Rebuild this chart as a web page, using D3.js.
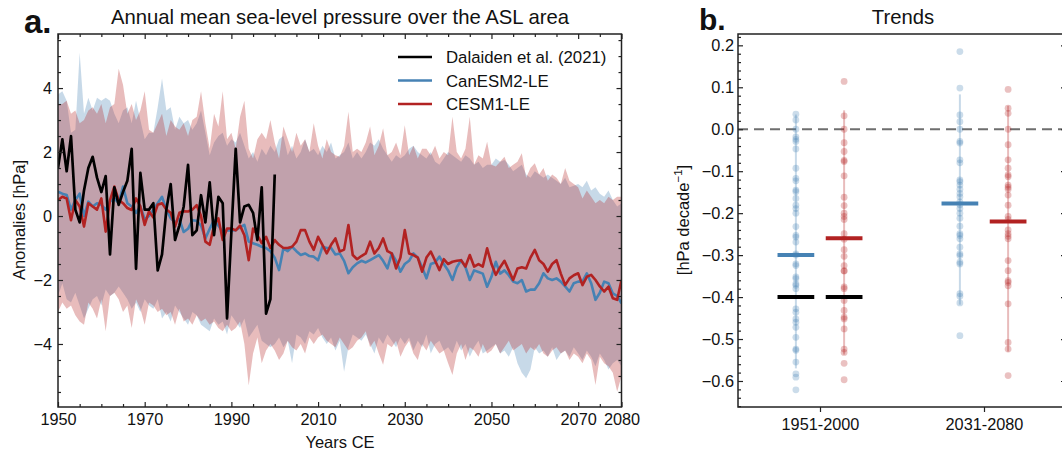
<!DOCTYPE html>
<html>
<head>
<meta charset="utf-8">
<script src="https://cdn.jsdelivr.net/npm/d3@7"></script>
<style>
    body { margin: 0; background: #fff; }
    svg { display: block; font-family: "Liberation Sans", Arial, sans-serif; }
    .axis path { display: none; }
    .axis line { stroke: #222; stroke-width: 1.2; }
    .axis text { font-size: 16.3px; fill: #111; font-family: "Liberation Sans", Arial, sans-serif; }
</style>
</head>
<body>
<svg id="chart" width="1062" height="457"></svg>
<script>
// ---- data: panel a (annual anomalies, hPa), 1950..2080 ----
const firstYear = 1950
const lastYear = 2080

const canMean = [
    0.76, 0.70, 0.66, 0.20, 0.50, 0.70, 0.00, 0.45, 0.30, 0.40,
    0.35, 0.20, 0.45, 0.55, 0.40, 0.92, 0.40, 0.30, 0.10, 0.30,
    -0.10, 0.00, 0.20, 0.40, 0.60, 0.20, -0.07, -0.20, -0.10, -0.50,
    -0.40, -0.13, -0.15, -0.30, -0.70, -0.40, -0.13, -0.30, -0.50, -0.45,
    -0.45, -0.44, -0.35, -0.28, -0.80, -0.85, -0.90, -0.96, -1.00, -1.10,
    -1.30, -1.69, -1.01, -1.10, -0.96, -1.10, -1.22, -1.17, -1.25, -1.27,
    -1.38, -0.96, -1.00, -1.00, -1.20, -1.17, -1.40, -1.79, -1.60, -1.48,
    -1.40, -1.45, -1.38, -1.30, -1.22, -1.40, -1.64, -1.17, -1.40, -1.74,
    -1.50, -1.40, -1.17, -1.30, -1.60, -1.95, -1.50, -1.45, -1.27, -1.50,
    -1.70, -2.00, -1.60, -1.38, -1.60, -2.00, -1.70, -1.75, -1.80, -2.21,
    -1.90, -1.43, -1.80, -1.70, -1.85, -2.05, -2.10, -2.00, -2.36, -2.30,
    -2.30, -2.10, -1.79, -1.95, -2.00, -1.95, -2.05, -2.20, -2.36, -2.10,
    -2.05, -2.05, -1.79, -2.10, -2.62, -2.40, -2.05, -2.10, -2.42, -2.50,
    -2.73
]
const cesmMean = [
    0.50, 0.60, 0.55, -0.13, 0.50, 0.30, -0.33, 0.40, 0.30, 0.20,
    0.55, -0.49, 0.50, 0.92, 0.50, 0.40, 0.25, 0.19, 0.55, 0.30,
    -0.28, 0.15, -0.05, 0.35, 0.40, 0.20, 0.10, -0.33, 0.10, 0.15,
    0.14, 0.20, 0.34, 0.00, -0.80, -0.90, -0.30, -0.07, -0.75, -0.39,
    -0.39, -0.45, -0.30, -0.60, -1.38, -0.39, -0.60, -0.85, -0.65, -1.00,
    -0.75, -0.90, -1.00, -1.00, -0.96, -0.80, -0.44, -0.44, -0.80, -1.06,
    -0.65, -0.90, -1.17, -0.90, -0.70, -1.11, -1.05, -0.28, -1.22, -1.35,
    -1.25, -1.17, -0.80, -1.17, -1.00, -0.70, -1.10, -1.17, -1.64, -1.30,
    -0.44, -1.17, -1.22, -1.30, -1.74, -1.30, -1.11, -1.40, -1.69, -1.35,
    -1.50, -1.43, -1.40, -1.38, -1.58, -1.22, -1.58, -1.50, -1.58, -1.01,
    -1.50, -1.84, -1.60, -1.40, -1.70, -2.00, -1.64, -1.60, -1.64, -1.30,
    -1.06, -1.38, -1.50, -1.74, -1.50, -1.38, -1.80, -2.16, -1.95, -1.85,
    -1.79, -2.16, -1.90, -1.84, -2.00, -2.20, -2.36, -2.21, -2.57, -2.62,
    -2.00
]
const canMax = [
    3.8, 3.9, 3.6, 2.6, 2.7, 5.1, 3.2, 3.7, 3.3, 3.7,
    3.6, 3.7, 3.6, 3.2, 2.9, 3.3, 3.4, 2.9, 3.6, 3.0,
    2.4, 2.6, 2.6, 3.4, 4.3, 3.3, 3.4, 2.7, 3.1, 2.9,
    3.0, 2.7, 2.9, 3.3, 2.6, 1.9, 2.3, 2.5, 2.6, 2.2,
    2.4, 2.3, 2.6, 2.2, 1.8, 2.0, 1.7, 2.1, 1.9, 2.2,
    2.0, 2.4, 2.5, 1.9, 2.2, 1.8, 2.0, 2.4, 2.0, 2.1,
    1.9, 2.2, 2.0, 2.3, 1.8, 1.9, 2.0, 2.3, 1.8, 2.0,
    1.8, 2.0, 2.3, 2.2, 2.4, 2.1, 1.9, 1.7, 1.9, 1.8,
    1.9, 2.1, 2.2, 2.0, 1.9, 1.8, 2.0, 1.7, 1.6, 1.8,
    2.0, 1.9, 1.8, 1.7, 1.9, 1.8, 1.6, 1.7, 1.5, 1.6,
    1.6, 1.8, 1.7, 1.75, 1.6, 1.4, 1.5, 1.6, 1.3, 1.2,
    1.4, 1.3, 1.2, 1.3, 1.2, 1.1, 1.0, 1.2, 0.9, 0.95,
    1.0, 0.9, 1.1, 0.8, 0.9, 0.7, 0.6, 0.8, 0.5, 0.3,
    0.4
]
const canMin = [
    -2.5, -2.1, -2.6, -2.7, -2.4, -2.8, -3.2, -2.9, -2.6, -2.5,
    -2.8, -2.3, -2.5, -2.4, -2.2, -2.4, -2.6, -2.9, -2.7, -3.0,
    -2.6, -2.8, -2.9, -2.6, -3.2, -3.0, -3.3, -2.8, -3.0, -3.2,
    -3.4, -3.0, -3.1, -3.4, -3.5, -3.6, -3.2, -3.4, -3.3, -3.7,
    -3.1, -3.3, -3.5, -3.2, -3.8, -3.6, -3.4, -3.9, -4.0, -4.1,
    -4.0, -3.8, -4.1, -3.9, -4.6, -3.7, -3.8, -4.0, -3.6, -3.7,
    -3.5, -3.8, -4.0, -3.8, -4.2, -3.9, -4.87, -4.1, -3.7, -3.8,
    -3.9, -3.7, -4.0, -4.3, -3.8, -4.0, -3.7, -3.9, -4.1, -3.8,
    -4.0, -3.8, -4.2, -3.9, -4.1, -3.7, -4.3, -4.0, -3.9, -4.2,
    -4.1, -4.3, -3.9, -4.2, -4.0, -4.4, -4.1, -3.9, -4.3, -4.2,
    -4.1, -4.0, -4.3, -4.2, -4.4, -4.1, -4.6, -4.9, -5.07, -4.8,
    -4.1, -4.3, -4.2, -4.4, -4.1, -4.5, -4.3, -4.2, -4.4, -4.1,
    -4.3, -4.5, -4.2, -4.4, -4.7, -4.3, -4.5, -4.8, -4.6, -4.5,
    -4.7
]
const cesmMax = [
    3.5, 3.5, 3.6, 3.2, 3.3, 2.9, 3.0, 3.3, 3.4, 3.2,
    3.5, 2.9, 3.4, 3.5, 4.6, 4.1, 3.2, 3.5, 3.0, 3.3,
    3.9, 2.7, 2.6, 2.9, 3.2, 2.5, 3.0, 2.8, 2.7, 2.9,
    2.5, 3.0, 3.1, 3.9, 2.9, 2.1, 3.2, 2.8, 3.9, 2.4,
    2.6, 2.1, 3.1, 3.6, 2.1, 1.8, 2.4, 2.6, 2.4, 3.0,
    2.3, 1.8, 2.8, 2.4, 2.0, 2.6, 2.2, 2.4, 2.0, 2.9,
    2.2, 1.8, 2.4, 2.0, 1.9, 1.85, 2.2, 3.26, 2.0, 2.1,
    2.0, 2.3, 2.8, 1.9, 2.2, 2.74, 1.9, 2.0, 2.3, 1.9,
    2.84, 1.9, 2.2, 1.8, 2.1, 2.1, 1.9, 2.2, 1.8, 2.0,
    1.9, 3.1, 2.0, 1.8, 2.1, 3.1, 1.6, 1.9, 1.8, 2.32,
    1.6, 1.55, 1.7, 1.85, 1.5, 1.6, 1.7, 1.96, 1.2, 1.5,
    1.65, 1.3, 1.5, 1.1, 1.3, 1.2, 1.0, 1.5, 1.1, 1.0,
    0.9, 0.55, 0.8, 0.6, 0.4, 0.5, 0.4, 0.6, 0.5, 0.6,
    0.6
]
const cesmMin = [
    -3.0, -2.7, -2.9, -2.8, -3.1, -3.3, -3.4, -2.7, -2.9, -3.2,
    -2.6, -3.6, -2.5, -2.4, -2.6, -3.0, -2.8, -3.5, -2.6, -2.9,
    -3.4, -2.7, -2.8, -3.0, -2.9, -3.1, -3.0, -3.4, -2.9, -3.3,
    -3.2, -3.4, -3.1, -3.3, -3.2, -3.4, -3.3, -3.5, -3.6, -3.4,
    -3.6, -3.5, -3.3, -4.0, -5.3, -4.3, -3.8, -4.6, -4.2, -4.0,
    -4.2, -4.5, -4.3, -3.9, -4.1, -4.2, -4.0, -4.3, -3.8, -4.0,
    -3.8, -3.7, -3.9, -4.0, -4.1, -3.8, -4.0, -4.2, -4.1, -3.9,
    -3.8, -3.6, -4.1, -3.9, -4.3, -4.65, -4.0, -4.1, -3.9, -4.4,
    -4.1, -3.9, -4.3, -4.5, -4.0, -4.2, -3.9, -4.1, -4.3, -4.2,
    -4.6, -4.97, -4.3, -4.0, -4.5, -4.1, -4.2, -4.4, -4.0, -4.3,
    -4.2, -4.0, -4.3, -4.1, -3.9, -4.2, -4.1, -4.0, -4.3, -4.1,
    -4.2, -4.0, -4.3, -4.4, -4.2, -4.1, -4.3, -4.2, -4.5, -4.3,
    -4.4, -4.6, -4.3, -4.5, -5.28, -4.4, -4.6, -4.7, -4.9, -5.49,
    -5.0
]
// Dalaiden et al. (2021) reconstruction, 1950..2000
const recon = [
    1.5, 2.4, 1.4, 2.5, 0.2, -0.2, 0.8, 1.5, 1.85, 1.2,
    0.75, 1.25, -1.2, 0.9, 0.35, 0.75, 1.1, 2.1, -1.65, 1.35,
    0.2, 0.2, 0.4, -1.7, -1.2, 0.2, 1.0, -0.75, -0.3, 0.3,
    1.6, -0.6, -0.45, 0.65, -0.2, 1.05, -0.6, 0.6, 0.4, -3.2,
    -0.5, 2.1, -0.2, 0.3, 0.35, 0.1, -0.75, 0.9, -3.05, -2.6,
    1.3
]

// ---- data: panel b (trends, hPa per decade) ----
const periods = ['1951-2000', '2031-2080']
const canTrends = [
    [0.036, 0.022, 0.0, -0.018, -0.024, -0.029, -0.047, -0.093, -0.117, -0.123, -0.145, -0.149,
     -0.165, -0.181, -0.189, -0.2, -0.232, -0.253, -0.257, -0.269, -0.297, -0.30, -0.321, -0.325,
     -0.352, -0.356, -0.368, -0.372, -0.380, -0.428, -0.436, -0.452, -0.460, -0.472, -0.496,
     -0.524, -0.527, -0.555, -0.583, -0.591, -0.621],
    [0.185, 0.098, 0.034, 0.018, 0.0, -0.029, -0.033, -0.073, -0.080, -0.121, -0.125, -0.133,
     -0.143, -0.153, -0.161, -0.173, -0.18, -0.189, -0.2, -0.212, -0.231, -0.249, -0.253, -0.261,
     -0.281, -0.297, -0.301, -0.317, -0.321, -0.392, -0.398, -0.414, -0.492]
]
const cesmTrends = [
    [0.114, 0.032, 0.0, -0.032, -0.053, -0.074, -0.077, -0.111, -0.162, -0.182, -0.2, -0.208,
     -0.215, -0.249, -0.262, -0.287, -0.303, -0.325, -0.337, -0.338, -0.376, -0.380, -0.408,
     -0.432, -0.448, -0.452, -0.476, -0.524, -0.532, -0.558, -0.597],
    [0.095, 0.05, 0.038, 0.0, -0.037, -0.073, -0.093, -0.109, -0.113, -0.133, -0.138, -0.143,
     -0.157, -0.181, -0.208, -0.215, -0.24, -0.249, -0.255, -0.261, -0.313, -0.337, -0.361,
     -0.365, -0.373, -0.416, -0.508, -0.524, -0.587]
]
const canTrendMean = [-0.30, -0.177]
const cesmTrendMean = [-0.26, -0.22]
const canRange = [[0.035, -0.57], [0.083, -0.418]]
const cesmRange = [[0.045, -0.537], [0.056, -0.53]]
const reconTrend = [-0.40]

const blue = '#4682b4'
const red = '#b22222'

const svg = d3.select('#chart')
const years = d3.range(firstYear, lastYear + 1)

// ================= panel a =================
const xA = d3.scaleLinear().domain([firstYear, lastYear]).range([58, 621.5])
const yA = d3.scaleLinear().domain([-5.97, 5.69]).range([407, 34])

svg.append('clipPath').attr('id', 'clipA')
    .append('rect').attr('x', 58).attr('y', 34).attr('width', 563.5).attr('height', 373)

const plotA = svg.append('g').attr('clip-path', 'url(#clipA)')

const band = (lo, hi) => d3.area()
    .x((_, i) => xA(years[i]))
    .y0((_, i) => yA(lo[i]))
    .y1((_, i) => yA(hi[i]))

plotA.append('path').datum(years).attr('d', band(canMin, canMax)).attr('fill', blue).attr('fill-opacity', 0.3)
plotA.append('path').datum(years).attr('d', band(cesmMin, cesmMax)).attr('fill', red).attr('fill-opacity', 0.3)

const line = d3.line().x(d => xA(d[0])).y(d => yA(d[1]))
const series = [
    { vals: canMean, color: blue, w: 2.6 },
    { vals: cesmMean, color: red, w: 2.6 },
    { vals: recon, color: '#000', w: 2.7 },
]
for (const s of series) {
    plotA.append('path')
        .datum(s.vals.map((v, i) => [firstYear + i, v]))
        .attr('d', line)
        .attr('fill', 'none')
        .attr('stroke', s.color)
        .attr('stroke-width', s.w)
        .attr('stroke-linejoin', 'round')
}

// axes (ticks pointing inward, like the matplotlib style)
const majorYears = [1950, 1970, 1990, 2010, 2030, 2050, 2070, 2080]
const minorYears = d3.range(1955, 2080, 5).filter(d => !majorYears.includes(d))
const majorA = [-4, -2, 0, 2, 4]
const minorA = d3.range(-5.5, 5.6, 0.5).filter(d => !majorA.includes(d))

svg.append('g').attr('class', 'axis').attr('transform', 'translate(0,407)')
    .call(d3.axisBottom(xA).tickValues(majorYears).tickFormat(d3.format('d')).tickSizeInner(-5).tickSizeOuter(0).tickPadding(6))
svg.append('g').attr('class', 'axis').attr('transform', 'translate(0,407)')
    .call(d3.axisBottom(xA).tickValues(minorYears).tickFormat('').tickSizeInner(-3).tickSizeOuter(0))
svg.append('g').attr('class', 'axis').attr('transform', 'translate(0,34)')
    .call(d3.axisTop(xA).tickValues(majorYears).tickFormat('').tickSizeInner(-5).tickSizeOuter(0))
svg.append('g').attr('class', 'axis').attr('transform', 'translate(0,34)')
    .call(d3.axisTop(xA).tickValues(minorYears).tickFormat('').tickSizeInner(-3).tickSizeOuter(0))
svg.append('g').attr('class', 'axis').attr('transform', 'translate(58,0)')
    .call(d3.axisLeft(yA).tickValues(majorA).tickFormat(d3.format('d')).tickSizeInner(-5).tickSizeOuter(0).tickPadding(6))
svg.append('g').attr('class', 'axis').attr('transform', 'translate(58,0)')
    .call(d3.axisLeft(yA).tickValues(minorA).tickFormat('').tickSizeInner(-3).tickSizeOuter(0))
svg.append('g').attr('class', 'axis').attr('transform', 'translate(621.5,0)')
    .call(d3.axisRight(yA).tickValues(majorA).tickFormat('').tickSizeInner(-5).tickSizeOuter(0))
svg.append('g').attr('class', 'axis').attr('transform', 'translate(621.5,0)')
    .call(d3.axisRight(yA).tickValues(minorA).tickFormat('').tickSizeInner(-3).tickSizeOuter(0))

svg.append('rect').attr('x', 58).attr('y', 34).attr('width', 563.5).attr('height', 373)
    .attr('fill', 'none').attr('stroke', '#222').attr('stroke-width', 1.5)

// legend
const legend = [
    { label: 'Dalaiden et al. (2021)', color: '#000' },
    { label: 'CanESM2-LE', color: blue },
    { label: 'CESM1-LE', color: red },
]
const lg = svg.append('g').selectAll('g').data(legend).join('g')
    .attr('transform', (_, i) => `translate(398,${57 + i * 23.5})`)
lg.append('line').attr('x1', 0).attr('x2', 34).attr('stroke', d => d.color).attr('stroke-width', 2.6)
lg.append('text').attr('x', 48).attr('dy', '0.36em').attr('font-size', 16.8).attr('fill', '#111').text(d => d.label)

// titles and labels
svg.append('text').attr('x', 340).attr('y', 24).attr('text-anchor', 'middle').attr('font-size', 20.3).attr('fill', '#111')
    .text('Annual mean sea-level pressure over the ASL area')
svg.append('text').attr('x', 24).attr('y', 33).attr('font-size', 33).attr('font-weight', 'bold').attr('fill', '#111').text('a.')
svg.append('text').attr('x', 340).attr('y', 448).attr('text-anchor', 'middle').attr('font-size', 16.5).attr('fill', '#111').text('Years CE')
svg.append('text').attr('transform', 'translate(25,220) rotate(-90)').attr('text-anchor', 'middle').attr('font-size', 16.5).attr('fill', '#111')
    .text('Anomalies [hPa]')

// ================= panel b =================
const xB = d3.scaleLinear().domain([-0.5, 1.5]).range([738, 1066])
const yB = d3.scaleLinear().domain([-0.662, 0.227]).range([407, 34])
const off = 0.147
const halfBar = 0.112

svg.append('line').attr('x1', 738).attr('x2', 1066).attr('y1', yB(0)).attr('y2', yB(0))
    .attr('stroke', '#555').attr('stroke-opacity', 0.85).attr('stroke-width', 2).attr('stroke-dasharray', '10,6')

const groups = []
periods.forEach((p, i) => {
    groups.push({ x: i - off, color: blue, vals: canTrends[i], range: canRange[i], mean: canTrendMean[i] })
    groups.push({ x: i + off, color: red, vals: cesmTrends[i], range: cesmRange[i], mean: cesmTrendMean[i] })
})

for (const g of groups) {
    svg.append('line').attr('x1', xB(g.x)).attr('x2', xB(g.x))
        .attr('y1', yB(g.range[0])).attr('y2', yB(g.range[1]))
        .attr('stroke', g.color).attr('stroke-opacity', 0.3).attr('stroke-width', 2)
    svg.append('g').selectAll('circle').data(g.vals).join('circle')
        .attr('cx', xB(g.x)).attr('cy', d => yB(d)).attr('r', 3.4)
        .attr('fill', g.color).attr('fill-opacity', 0.28)
}
for (const g of groups) {
    svg.append('line').attr('x1', xB(g.x - halfBar)).attr('x2', xB(g.x + halfBar))
        .attr('y1', yB(g.mean)).attr('y2', yB(g.mean))
        .attr('stroke', g.color).attr('stroke-width', 4)
}
// reconstruction trend, shown next to both model groups of the first period
for (const dx of [-off, off]) {
    svg.append('line').attr('x1', xB(dx - halfBar)).attr('x2', xB(dx + halfBar))
        .attr('y1', yB(reconTrend[0])).attr('y2', yB(reconTrend[0]))
        .attr('stroke', '#000').attr('stroke-width', 4)
}

const majorB = d3.range(-6, 3).map(d => d / 10)
const minorB = d3.range(-33, 12).map(d => d / 50).filter(d => !majorB.some(m => Math.abs(m - d) < 1e-9))

svg.append('g').attr('class', 'axis').attr('transform', 'translate(738,0)')
    .call(d3.axisLeft(yB).tickValues(majorB).tickFormat(d3.format('.1f')).tickSizeInner(-5).tickSizeOuter(0).tickPadding(4))
svg.append('g').attr('class', 'axis').attr('transform', 'translate(738,0)')
    .call(d3.axisLeft(yB).tickValues(minorB).tickFormat('').tickSizeInner(-3).tickSizeOuter(0))
svg.append('g').attr('class', 'axis').attr('transform', 'translate(1066,0)')
    .call(d3.axisRight(yB).tickValues(majorB).tickFormat('').tickSizeInner(-5).tickSizeOuter(0))
svg.append('g').attr('class', 'axis').attr('transform', 'translate(1066,0)')
    .call(d3.axisRight(yB).tickValues(minorB).tickFormat('').tickSizeInner(-3).tickSizeOuter(0))
svg.append('g').attr('class', 'axis').attr('transform', 'translate(0,407)')
    .call(d3.axisBottom(xB).tickValues([0, 1]).tickFormat(i => periods[i]).tickSizeInner(5).tickSizeOuter(0).tickPadding(6))

svg.append('rect').attr('x', 738).attr('y', 34).attr('width', 328).attr('height', 373)
    .attr('fill', 'none').attr('stroke', '#222').attr('stroke-width', 1.5)

svg.append('text').attr('x', 903).attr('y', 24).attr('text-anchor', 'middle').attr('font-size', 20.3).attr('fill', '#111').text('Trends')
svg.append('text').attr('x', 699).attr('y', 29.5).attr('font-size', 30).attr('font-weight', 'bold').attr('fill', '#111').text('b.')
const yl = svg.append('text').attr('transform', 'translate(689,220) rotate(-90)').attr('text-anchor', 'middle')
    .attr('font-size', 16.5).attr('fill', '#111')
yl.append('tspan').text('[hPa decade')
yl.append('tspan').attr('dy', -7).attr('font-size', 11.5).text('−1')
yl.append('tspan').attr('dy', 7).text(']')
</script>
</body>
</html>
